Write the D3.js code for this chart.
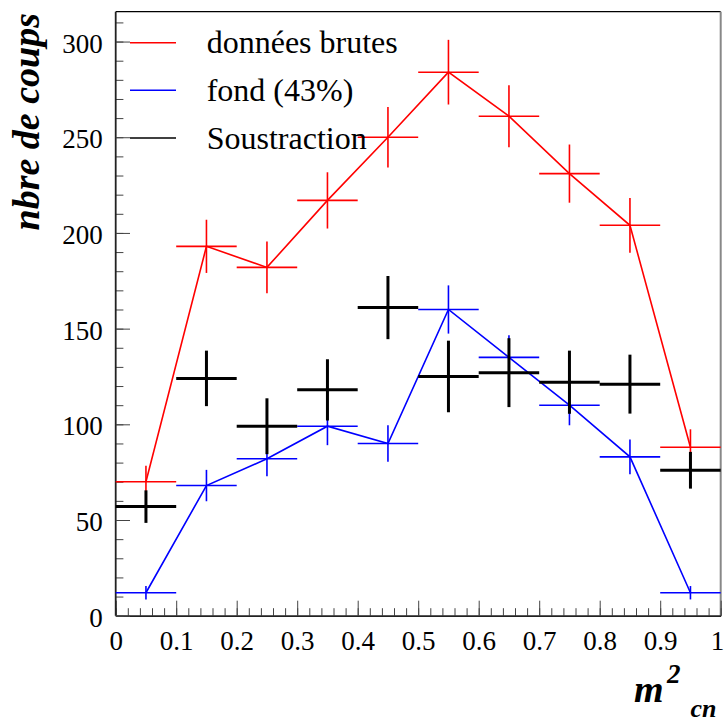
<!DOCTYPE html>
<html>
<head>
<meta charset="utf-8">
<script src="https://cdn.jsdelivr.net/npm/d3@7"></script>
<style>
  body { margin: 0; background: #fff; }
  svg text { font-family: "Liberation Serif", "Times New Roman", Times, "Noto Serif", "DejaVu Serif", serif !important; }
</style>
</head>
<body>
<div id="chart"></div>
<script>
// bin centres along m2_cn
var binCenters = [0.05, 0.15, 0.25, 0.35, 0.45, 0.55, 0.65, 0.75, 0.85, 0.95];
var binWidth = 0.1;

// donnees brutes
var rawCounts = [70, 193, 182, 217, 250, 284, 261, 231, 204, 88];
var rawErr = [8.4, 13.9, 13.5, 14.7, 15.8, 16.9, 16.2, 15.2, 14.3, 9.4];

// fond (43%)
var bgCounts = [12, 68, 82, 99, 90, 160, 135, 110, 83, 12];
var bgErr = [3.5, 8.2, 9.1, 9.9, 9.5, 12.6, 11.6, 10.5, 9.1, 3.5];

// soustraction
var subCounts = [57, 124, 99, 118, 161, 125, 127, 122, 121, 76];
var subErr = [8.5, 14.5, 14.6, 16, 16.5, 18.7, 18, 16.5, 15.4, 9.6];

var xTicks = [0, 0.1, 0.2, 0.3, 0.4, 0.5, 0.6, 0.7, 0.8, 0.9, 1];
var yTicks = [0, 50, 100, 150, 200, 250, 300];
var legendLabels = ["données brutes", "fond (43%)", "Soustraction"];

var serif = "'Liberation Serif', 'Times New Roman', Times, 'Noto Serif', 'DejaVu Serif', serif";

// dimensions
var W = 725, H = 725;
var margin = {top: 11.7, right: 4.3, bottom: 109.3, left: 115.7};
var width = W - margin.left - margin.right,
    height = H - margin.top - margin.bottom;

var x = d3.scaleLinear().domain([0, 1]).range([0, width]);
var y = d3.scaleLinear().domain([0, 315.6]).range([height, 0]);

var svg = d3.select("#chart").append("svg")
    .attr("width", W)
    .attr("height", H)
    .attr("font-family", serif)
  .append("g")
    .attr("transform", "translate(" + margin.left + "," + margin.top + ")");

// frame
svg.append("line").attr("x1", 0).attr("x2", width).attr("y1", 0).attr("y2", 0)
  .attr("stroke", "#000").attr("stroke-width", 1.2);
svg.append("line").attr("x1", width).attr("x2", width).attr("y1", 0).attr("y2", height)
  .attr("stroke", "#888").attr("stroke-width", 2);

// x axis (ticks point up into the plot)
var xMinor = d3.range(0, 1.0001, 0.02);
var xAx = svg.append("g").attr("transform", "translate(0," + height + ")");
xAx.call(d3.axisBottom(x).tickValues(xMinor).tickSizeInner(-7.5).tickSizeOuter(0).tickFormat(""));
xAx.call(function(g) {
  g.selectAll(".tick line").attr("stroke", "#444");
  g.select(".domain").remove();
});
var xMaj = svg.append("g").attr("transform", "translate(0," + height + ")");
xMaj.call(d3.axisBottom(x).tickValues(xTicks).tickSizeInner(-15).tickSizeOuter(0)
  .tickFormat(function(d) { return d === 0 || d === 1 ? String(d) : d3.format(".1f")(d); }));
xMaj.attr("font-family", serif);
xMaj.select(".domain").attr("stroke", "#222").attr("stroke-width", 1.8);
xMaj.selectAll(".tick line").attr("stroke", "#444");
xMaj.selectAll(".tick text")
  .attr("y", 0).attr("dy", 0)
  .attr("transform", "translate(0,34.3)")
  .attr("font-family", serif)
  .style("font-size", "27px")
  .attr("fill", "#000");
// last label sits at the window edge
xMaj.selectAll(".tick text").filter(function(d) { return d === 1; })
  .attr("text-anchor", "end").attr("x", 3);

// y axis (ticks point right into the plot)
var yMinor = d3.range(0, 311, 10);
var yAx = svg.append("g");
yAx.call(d3.axisLeft(y).tickValues(yMinor).tickSizeInner(-7.7).tickSizeOuter(0).tickFormat(""));
yAx.call(function(g) {
  g.selectAll(".tick line").attr("stroke", "#444");
  g.select(".domain").remove();
});
var yMaj = svg.append("g");
yMaj.call(d3.axisLeft(y).tickValues(yTicks).tickSizeInner(-14.3).tickSizeOuter(0));
yMaj.attr("font-family", serif);
yMaj.select(".domain").attr("stroke", "#222").attr("stroke-width", 1.8)
  .attr("d", "M0," + height + "V0");
yMaj.selectAll(".tick line").attr("stroke", "#444");
yMaj.selectAll(".tick text")
  .attr("x", -13).attr("dy", 0)
  .attr("transform", "translate(0,10.5)")
  .attr("font-family", serif)
  .style("font-size", "27px")
  .attr("fill", "#000");

// axis titles
svg.append("text")
  .attr("text-anchor", "end")
  .attr("transform", "translate(" + (39 - margin.left) + "," + (13 - margin.top) + ")rotate(-90)")
  .attr("font-family", serif)
  .style("font-size", "38px").style("font-weight", "bold").style("font-style", "italic")
  .text("nbre de coups");

var xt = svg.append("g").attr("transform", "translate(" + (-margin.left) + "," + (-margin.top) + ")")
  .attr("font-family", serif)
  .style("font-weight", "bold").style("font-style", "italic");
xt.append("text").attr("x", 634).attr("y", 701.7).style("font-size", "38px").text("m");
xt.append("text").attr("x", 667).attr("y", 683).style("font-size", "27px").text("2");
xt.append("text").attr("x", 690.5).attr("y", 716.7).style("font-size", "26px").text("cn");

// draw one series: connecting line (optional) plus error crosses
function drawSeries(counts, errs, color, lw, withLine) {
  var pts = binCenters.map(function(c, i) { return {c: c, v: counts[i], e: errs[i]}; });
  var g = svg.append("g");
  if (withLine) {
    g.append("path")
      .datum(pts)
      .attr("fill", "none")
      .attr("stroke", color)
      .attr("stroke-width", lw)
      .attr("d", d3.line().x(function(d) { return x(d.c); }).y(function(d) { return y(d.v); }));
  }
  g.selectAll(".hbar").data(pts).enter().append("line")
    .attr("x1", function(d) { return x(d.c - binWidth / 2); })
    .attr("x2", function(d) { return x(d.c + binWidth / 2); })
    .attr("y1", function(d) { return y(d.v); })
    .attr("y2", function(d) { return y(d.v); })
    .attr("stroke", color).attr("stroke-width", lw);
  g.selectAll(".vbar").data(pts).enter().append("line")
    .attr("x1", function(d) { return x(d.c); })
    .attr("x2", function(d) { return x(d.c); })
    .attr("y1", function(d) { return y(d.v - d.e); })
    .attr("y2", function(d) { return y(d.v + d.e); })
    .attr("stroke", color).attr("stroke-width", lw);
}

drawSeries(rawCounts, rawErr, "#ff0000", 1.6, true);
drawSeries(bgCounts, bgErr, "#0000ff", 1.6, true);
drawSeries(subCounts, subErr, "#000000", 3, false);

// legend
var legColors = ["#ff0000", "#0000ff", "#000000"];
var legY = [42.7, 90.3, 138];
var leg = svg.append("g").attr("transform", "translate(" + (-margin.left) + "," + (-margin.top) + ")");
legendLabels.forEach(function(lab, i) {
  leg.append("line")
    .attr("x1", 130).attr("x2", 176)
    .attr("y1", legY[i]).attr("y2", legY[i])
    .attr("stroke", legColors[i]).attr("stroke-width", 1.6);
  leg.append("text")
    .attr("x", 206.7).attr("y", legY[i] + 10.5)
    .attr("font-family", serif)
    .style("font-size", "32px")
    .text(lab);
});
</script>
</body>
</html>
